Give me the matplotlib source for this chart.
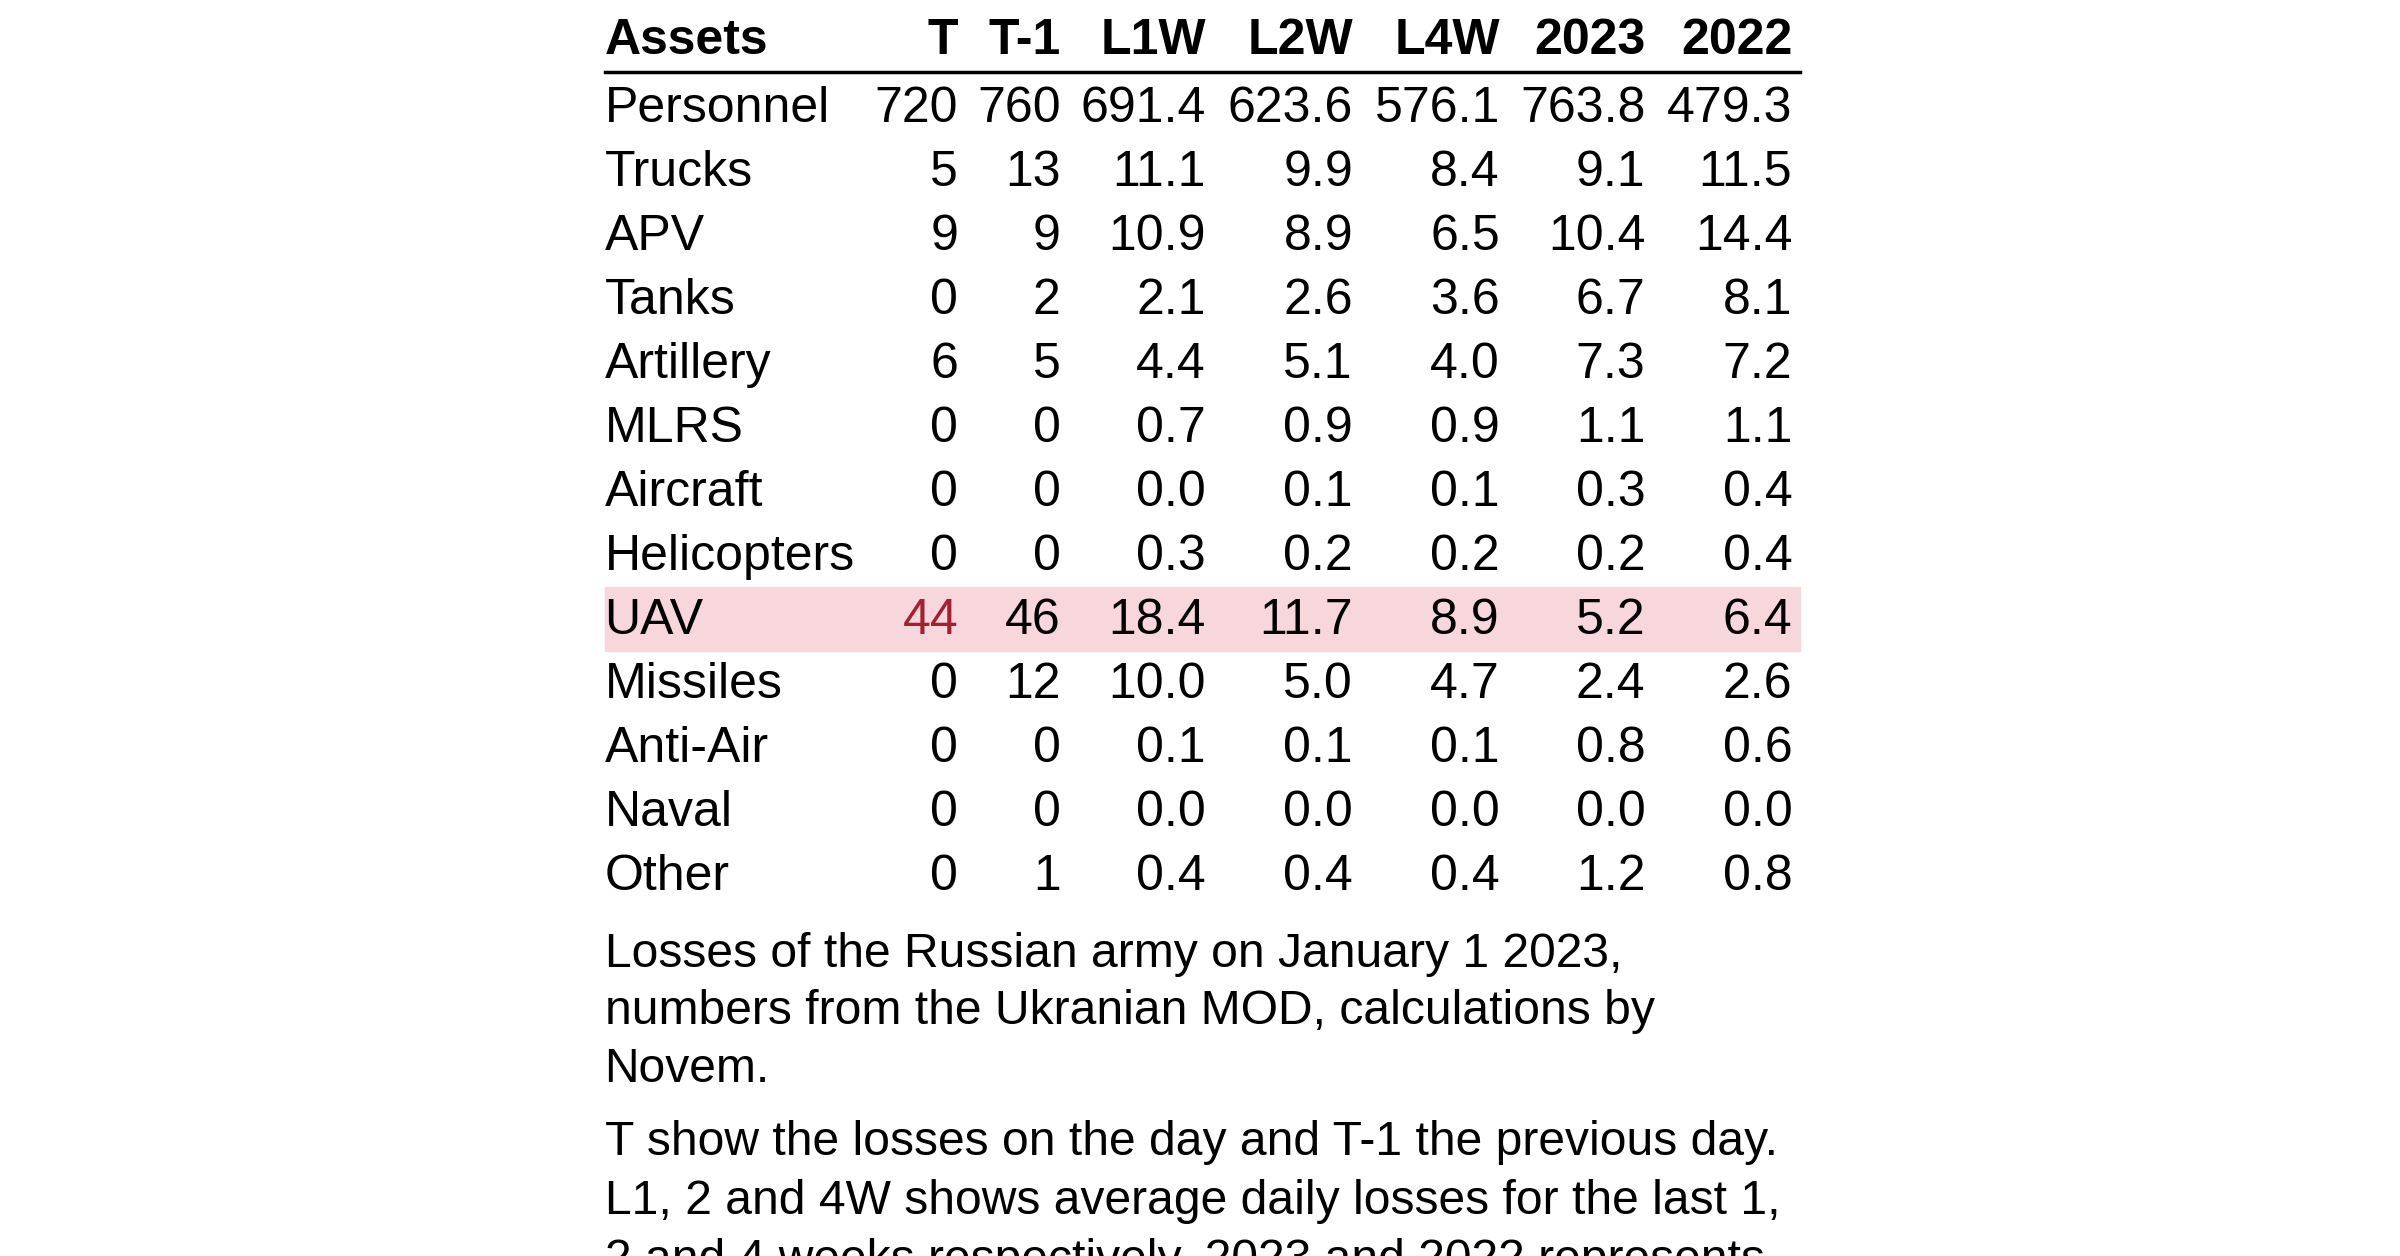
import matplotlib.pyplot as plt
from matplotlib.patches import Rectangle

plt.rcParams['font.family'] = ['Liberation Sans', 'DejaVu Sans']

headers = ['Assets', 'T', 'T-1', 'L1W', 'L2W', 'L4W', '2023', '2022']
assets = ['Personnel', 'Trucks', 'APV', 'Tanks', 'Artillery', 'MLRS', 'Aircraft',
          'Helicopters', 'UAV', 'Missiles', 'Anti-Air', 'Naval', 'Other']
t_vals = ['720', '5', '9', '0', '6', '0', '0', '0', '44', '0', '0', '0', '0']
t1_vals = ['760', '13', '9', '2', '5', '0', '0', '0', '46', '12', '0', '0', '1']
l1w = ['691.4', '11.1', '10.9', '2.1', '4.4', '0.7', '0.0', '0.3', '18.4', '10.0', '0.1', '0.0', '0.4']
l2w = ['623.6', '9.9', '8.9', '2.6', '5.1', '0.9', '0.1', '0.2', '11.7', '5.0', '0.1', '0.0', '0.4']
l4w = ['576.1', '8.4', '6.5', '3.6', '4.0', '0.9', '0.1', '0.2', '8.9', '4.7', '0.1', '0.0', '0.4']
y2023 = ['763.8', '9.1', '10.4', '6.7', '7.3', '1.1', '0.3', '0.2', '5.2', '2.4', '0.8', '0.0', '1.2']
y2022 = ['479.3', '11.5', '14.4', '8.1', '7.2', '1.1', '0.4', '0.4', '6.4', '2.6', '0.6', '0.0', '0.8']
highlight = 'UAV'

caption1 = ['Losses of the Russian army on January 1 2023,',
            'numbers from the Ukranian MOD, calculations by',
            'Novem.']
caption2 = ['T show the losses on the day and T-1 the previous day.',
            'L1, 2 and 4W shows average daily losses for the last 1,',
            '2 and 4 weeks respectively. 2023 and 2022 represents']

W, H = 1568, 821
fig = plt.figure(figsize=(24, 12.56), dpi=100)

def fx(x): return x / W
def fy(y): return 1 - y / H

left, right = 395, 1176
col_right = [626, 693, 788, 884, 980, 1075, 1171]
fs = 36
red = '#a3202f'

for i, h in enumerate(headers):
    if i == 0:
        fig.text(fx(left), fy(27), h, fontsize=fs, fontweight='bold', va='center', ha='left')
    else:
        fig.text(fx(col_right[i - 1]), fy(27), h, fontsize=fs, fontweight='bold', va='center', ha='right')
fig.add_artist(plt.Line2D([fx(left), fx(right)], [fy(47), fy(47)], color='black', lw=2.5))

cols = [t_vals, t1_vals, l1w, l2w, l4w, y2023, y2022]
row0, step = 71, 41.85
for r, name in enumerate(assets):
    y = row0 + r * step
    hl = name == highlight
    if hl:
        fig.add_artist(Rectangle((fx(left), fy(y + 20)), fx(right) - fx(left), 42 / H,
                                 transform=fig.transFigure, color='#f7d6dc', zorder=0))
    fig.text(fx(left), fy(y), name, fontsize=fs, va='center', ha='left', color='black')
    for c, vals in enumerate(cols):
        fig.text(fx(col_right[c]), fy(y), vals[r], fontsize=fs, va='center', ha='right',
                 color=red if (hl and c == 0) else 'black')

for k, line in enumerate(caption1):
    fig.text(fx(left), fy(624 + k * 37.5), line, fontsize=fs * 0.96, va='center', ha='left')
for k, line in enumerate(caption2):
    fig.text(fx(left), fy(747 + k * 38.5), line, fontsize=fs * 0.96, va='center', ha='left')

fig.savefig('out.png', dpi=100)
